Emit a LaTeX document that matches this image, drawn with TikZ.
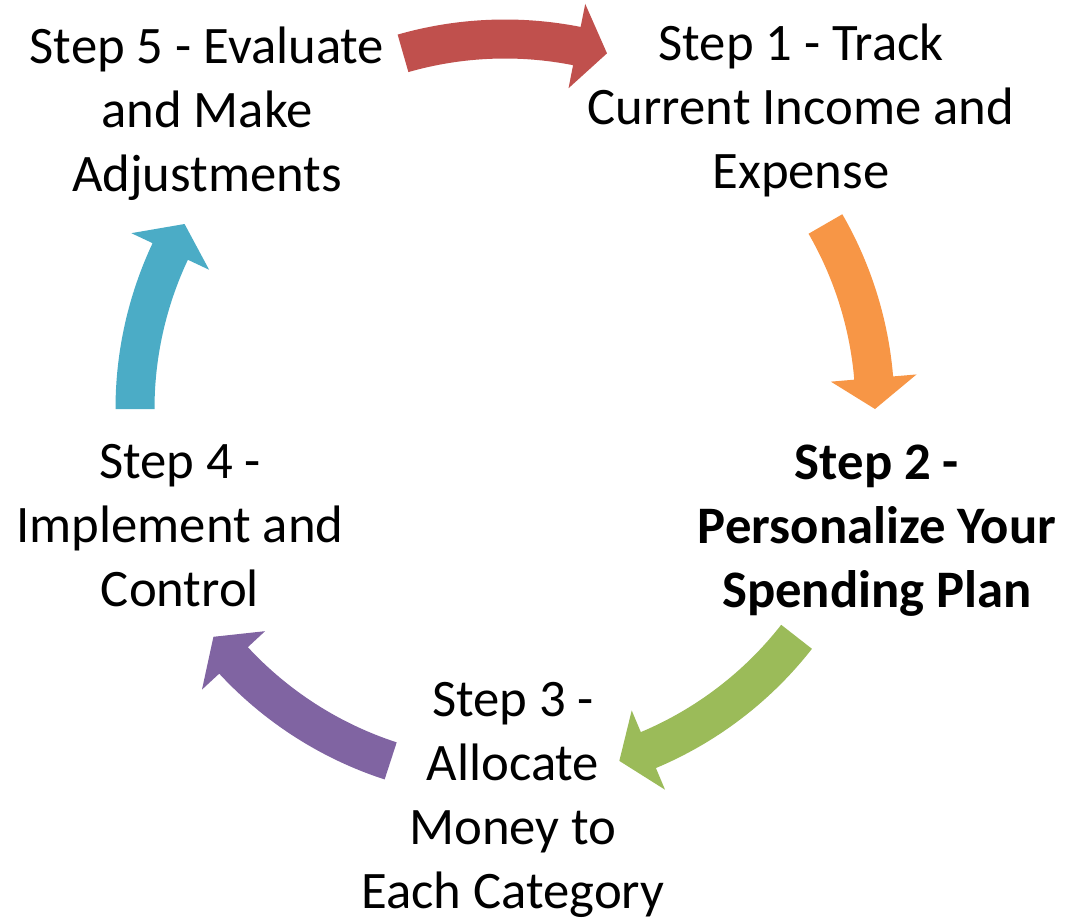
\documentclass[tikz,border=0pt]{standalone}
\usepackage{fontspec}
\setmainfont{Carlito}
\definecolor{arrowred}{HTML}{C0504D}
\definecolor{arroworange}{HTML}{F79646}
\definecolor{arrowgreen}{HTML}{9BBB59}
\definecolor{arrowpurple}{HTML}{8064A2}
\definecolor{arrowblue}{HTML}{4BACC6}
\tikzset{
    steptext/.style={align=center, inner sep=0pt,
        font=\fontsize{30}{36.4}\selectfont},
    % curved block arrow along the ring, from angle #2 clockwise to tip at #3
    pics/cyclearrow/.style n args={3}{code={
        \fill[#1] (#2:389.5) arc[start angle=#2, end angle={#3+4.8}, radius=389.5]
            -- ({#3+4.8}:413) -- (#3:370) -- ({#3+4.8}:327)
            -- ({#3+4.8}:350.5) arc[start angle={#3+4.8}, end angle=#2, radius=350.5]
            -- cycle;
    }},
}

\begin{document}
\begin{tikzpicture}[x=0.02cm, y=0.02cm]
    \useasboundingbox (0,0) rectangle (1065,-919);
    \coordinate (ring) at (505,-409);

    \node[steptext] (step1) at (801,-110) {Step 1 - Track\\Current Income and\\Expense};
    \node[steptext, font=\fontsize{30}{36.4}\selectfont\bfseries] (step2) at (877,-531)
        {Step 2 -\\Personalize Your\\Spending Plan};
    \node[steptext] (step3) at (513,-800) {Step 3 -\\Allocate\\Money to\\Each Category};
    \node[steptext] (step4) at (180,-526) {Step 4 -\\Implement and\\Control};
    \node[steptext] (step5) at (207,-114) {Step 5 - Evaluate\\and Make\\Adjustments};

    \pic at (ring) {cyclearrow={arrowred}{106}{74}};
    \pic at (ring) {cyclearrow={arroworange}{30}{0}};
    \pic at (ring) {cyclearrow={arrowgreen}{-38}{-72}};
    \pic at (ring) {cyclearrow={arrowpurple}{-108}{-142}};
    \pic at (ring) {cyclearrow={arrowblue}{180}{150}};
\end{tikzpicture}
\end{document}
